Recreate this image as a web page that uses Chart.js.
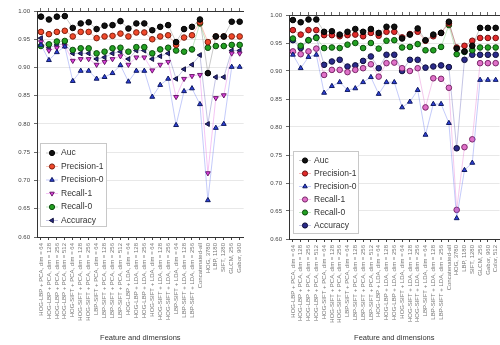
<!DOCTYPE html>
<html>
<head>
<meta charset="utf-8">
<script src="https://cdn.jsdelivr.net/npm/chart.js@4/dist/chart.umd.min.js"></script>
<style>
  html, body { margin: 0; padding: 0; background: #fff; overflow: hidden; width: 500px; height: 345px; }
  #left { position: absolute; left: 0; top: 0; }
  #right { position: absolute; left: 250px; top: 0; }
</style>
</head>
<body>
<canvas id="left" width="250" height="345"></canvas>
<canvas id="right" width="256" height="345"></canvas>
<script>
// Datos
const seriesNames = ["Auc", "Precision-1", "Precision-0", "Recall-1", "Recall-0", "Accuracy"];
const yTicks = [0.60, 0.65, 0.70, 0.75, 0.80, 0.85, 0.90, 0.95, 1.00];

const catsLeft = [
  "HOG-LBP + PCA, dim = 64", "HOG-LBP + PCA, dim = 128", "HOG-LBP + PCA, dim = 256", "HOG-LBP + PCA, dim = 512",
  "HOG-SIFT + PCA, dim = 64", "HOG-SIFT + PCA, dim = 128", "HOG-SIFT + PCA, dim = 256",
  "LBP-SIFT + PCA, dim = 64", "LBP-SIFT + PCA, dim = 128", "LBP-SIFT + PCA, dim = 256", "LBP-SIFT + PCA, dim = 512",
  "HOG-LBP + LDA, dim = 64", "HOG-LBP + LDA, dim = 128", "HOG-LBP + LDA, dim = 256",
  "HOG-SIFT + LDA, dim = 64", "HOG-SIFT + LDA, dim = 128", "HOG-SIFT + LDA, dim = 256",
  "LBP-SIFT + LDA, dim = 64", "LBP-SIFT + LDA, dim = 128", "LBP-SIFT + LDA, dim = 256",
  "Concatenated-all",
  "HOG, 3780", "LBP, 1180", "SIFT, 1280", "GLCM, 256", "Gabor, 960"
];
const aucL   = [0.990,0.985,0.990,0.991,0.970,0.978,0.980,0.968,0.974,0.975,0.982,0.969,0.978,0.978,0.966,0.972,0.975,0.945,0.968,0.972,0.985,0.890,0.955,0.955,0.981,0.981];
const prec1L = [0.963,0.959,0.963,0.965,0.955,0.963,0.963,0.952,0.955,0.956,0.960,0.955,0.962,0.962,0.950,0.955,0.957,0.940,0.953,0.957,0.980,0.945,0.955,0.955,0.955,0.955];
const prec0L = [0.940,0.913,0.927,0.937,0.876,0.894,0.894,0.880,0.883,0.890,0.904,0.875,0.894,0.894,0.848,0.869,0.880,0.798,0.858,0.863,0.835,0.665,0.793,0.800,0.901,0.901];
const rec1L  = [0.945,0.930,0.935,0.938,0.912,0.915,0.915,0.905,0.910,0.915,0.920,0.905,0.918,0.918,0.895,0.905,0.910,0.848,0.880,0.885,0.887,0.713,0.846,0.851,0.925,0.925];
const rec0L  = [0.938,0.941,0.946,0.947,0.931,0.934,0.934,0.925,0.928,0.934,0.935,0.928,0.936,0.936,0.925,0.932,0.935,0.930,0.928,0.932,0.978,0.935,0.938,0.938,0.940,0.940];
const accL   = [0.952,0.935,0.940,0.942,0.925,0.925,0.925,0.915,0.918,0.925,0.928,0.915,0.930,0.930,0.915,0.920,0.925,0.880,0.897,0.905,0.922,0.800,0.883,0.883,0.930,0.930];

const catsRight = [
  "HOG-LBP + PCA, dim = 64", "HOG-LBP + PCA, dim = 128", "HOG-LBP + PCA, dim = 256", "HOG-LBP + PCA, dim = 512",
  "HOG-SIFT + PCA, dim = 64", "HOG-SIFT + PCA, dim = 128", "HOG-SIFT + PCA, dim = 256",
  "LBP-SIFT + PCA, dim = 64", "LBP-SIFT + PCA, dim = 128", "LBP-SIFT + PCA, dim = 256", "LBP-SIFT + PCA, dim = 512",
  "HOG-LBP + LDA, dim = 64", "HOG-LBP + LDA, dim = 128", "HOG-LBP + LDA, dim = 256",
  "HOG-SIFT + LDA, dim = 64", "HOG-SIFT + LDA, dim = 128", "HOG-SIFT + LDA, dim = 256",
  "LBP-SIFT + LDA, dim = 64", "LBP-SIFT + LDA, dim = 128", "LBP-SIFT + LDA, dim = 256",
  "Concatenated-all",
  "HOG, 3780", "LBP, 1180", "SIFT, 1280", "GLCM, 256", "Gabor, 960", "Color, 512"
];
const aucR   = [0.991,0.987,0.992,0.992,0.970,0.971,0.965,0.970,0.975,0.970,0.975,0.968,0.979,0.979,0.958,0.965,0.976,0.955,0.965,0.968,0.988,0.940,0.935,0.945,0.977,0.977,0.977];
const prec1R = [0.973,0.965,0.973,0.973,0.964,0.964,0.962,0.964,0.965,0.962,0.968,0.963,0.970,0.970,0.960,0.966,0.970,0.954,0.962,0.968,0.985,0.942,0.945,0.954,0.959,0.959,0.959];
const prec0R = [0.929,0.905,0.925,0.929,0.861,0.873,0.880,0.866,0.869,0.880,0.889,0.859,0.880,0.880,0.835,0.845,0.866,0.786,0.841,0.841,0.807,0.637,0.723,0.736,0.884,0.884,0.884];
const rec1R  = [0.935,0.930,0.935,0.940,0.893,0.902,0.902,0.898,0.902,0.905,0.912,0.890,0.914,0.915,0.905,0.900,0.905,0.835,0.887,0.886,0.870,0.652,0.764,0.778,0.914,0.914,0.914];
const rec0R  = [0.958,0.945,0.955,0.959,0.941,0.942,0.941,0.947,0.950,0.941,0.950,0.940,0.954,0.955,0.942,0.943,0.948,0.937,0.937,0.943,0.982,0.930,0.934,0.937,0.942,0.942,0.942];
const accR   = [0.955,0.941,0.955,0.960,0.911,0.917,0.920,0.908,0.910,0.918,0.926,0.905,0.929,0.929,0.900,0.920,0.920,0.906,0.908,0.910,0.907,0.762,0.920,0.929,0.929,0.929,0.929];

Chart.defaults.font.family = "'Liberation Sans', Arial, sans-serif";
Chart.defaults.color = '#333';

// leyenda dentro del grafico
const insideLegend = {
  id: 'insideLegend',
  afterDraw(chart, args, opts) {
    const ctx = chart.ctx;
    ctx.save();
    ctx.fillStyle = '#fff';
    ctx.fillRect(opts.x, opts.y, opts.w, opts.h);
    ctx.strokeStyle = '#c8c8c8';
    ctx.lineWidth = 1;
    ctx.strokeRect(opts.x + 0.5, opts.y + 0.5, opts.w, opts.h);
    chart.data.datasets.forEach((ds, i) => {
      const y = opts.y + opts.first + i * opts.row;
      const mx = opts.x + 12;
      ctx.strokeStyle = ds.borderColor;
      ctx.lineWidth = 0.8;
      ctx.beginPath();
      ctx.moveTo(mx - 6, y);
      ctx.lineTo(mx + 6, y);
      ctx.stroke();
      ctx.fillStyle = ds.pointBackgroundColor;
      ctx.strokeStyle = ds.pointBorderColor;
      ctx.lineWidth = 1;
      if (Chart.helpers && Chart.helpers.drawPoint) {
        Chart.helpers.drawPoint(ctx, { pointStyle: ds.pointStyle, rotation: ds.pointRotation || 0, radius: 2.6, borderWidth: 1 }, mx, y);
      } else {
        ctx.beginPath();
        ctx.arc(mx, y, 2.6, 0, Math.PI * 2);
        ctx.fill();
        ctx.stroke();
      }
      ctx.fillStyle = '#333';
      ctx.font = "8.5px 'Liberation Sans', Arial, sans-serif";
      ctx.textBaseline = 'middle';
      ctx.fillText(ds.label, opts.x + 21, y);
    });
    ctx.restore();
  }
};

function makeDatasets(values, styles) {
  return values.map((v, i) => ({
    label: seriesNames[i],
    data: v,
    borderColor: styles[i].line,
    borderWidth: 0.8,
    pointBackgroundColor: styles[i].fill,
    pointBorderColor: styles[i].edge,
    pointBorderWidth: 1,
    pointRadius: 2.8,
    pointStyle: styles[i].shape,
    pointRotation: styles[i].rot || 0,
    tension: 0
  }));
}

const stylesLeft = [
  { fill: '#111', edge: '#000', line: 'rgba(60,60,60,0.35)', shape: 'circle' },
  { fill: '#f0482a', edge: '#7a2010', line: 'rgba(240,72,42,0.4)', shape: 'circle' },
  { fill: '#2c3fd8', edge: '#101a60', line: 'rgba(90,110,240,0.45)', shape: 'triangle' },
  { fill: '#e040e0', edge: '#6a1a6a', line: 'rgba(230,110,230,0.5)', shape: 'triangle', rot: 180 },
  { fill: '#22a022', edge: '#0c4a0c', line: 'rgba(40,170,40,0.35)', shape: 'circle' },
  { fill: '#2a2a8a', edge: '#10103a', line: 'rgba(70,70,170,0.4)', shape: 'triangle', rot: 270 }
];
const stylesRight = [
  { fill: '#111', edge: '#000', line: 'rgba(60,60,60,0.35)', shape: 'circle' },
  { fill: '#e22a2a', edge: '#701010', line: 'rgba(226,42,42,0.4)', shape: 'circle' },
  { fill: '#2c3fd8', edge: '#101a60', line: 'rgba(90,110,240,0.45)', shape: 'triangle' },
  { fill: '#e070c8', edge: '#7a2a6a', line: 'rgba(230,120,210,0.5)', shape: 'circle' },
  { fill: '#22a022', edge: '#0c4a0c', line: 'rgba(40,170,40,0.35)', shape: 'circle' },
  { fill: '#2a2a8a', edge: '#10103a', line: 'rgba(70,70,170,0.4)', shape: 'circle' }
];

function makeOptions(yWidth, xHeight, padTop, padRight, legendBox) {
  return {
    responsive: false,
    animation: false,
    devicePixelRatio: 1,
    layout: { padding: { top: padTop, right: padRight, left: 0, bottom: 0 } },
    plugins: {
      legend: { display: false },
      tooltip: { enabled: false },
      insideLegend: legendBox
    },
    scales: {
      x: {
        type: 'category',
        offset: true,
        grid: { display: true, drawOnChartArea: false, tickLength: 3, tickColor: '#444' },
        border: { color: '#333', width: 1 },
        ticks: { autoSkip: false, minRotation: 90, maxRotation: 90, padding: 3, color: '#777', font: { size: 6 } },
        title: { display: true, text: 'Feature and dimensions', color: '#333', font: { size: 7.5 }, padding: { top: 2, bottom: 3 } },
        afterFit: s => { s.height = xHeight; }
      },
      x2: {
        type: 'category',
        position: 'top',
        offset: true,
        grid: { display: true, drawOnChartArea: false, tickLength: 3, tickColor: '#666' },
        border: { color: '#333', width: 1 },
        ticks: { display: false },
        afterFit: s => { s.height = 3; }
      },
      y: {
        min: 0.6,
        max: 1.0,
        afterBuildTicks: s => { s.ticks = yTicks.map(v => ({ value: v })); },
        grid: { color: '#e2e2e2', lineWidth: 0.8, tickLength: 3, tickColor: '#444' },
        border: { color: '#333', width: 1 },
        ticks: { color: '#444', font: { size: 6 }, padding: 4, callback: v => Number(v).toFixed(2) },
        afterFit: s => { s.width = yWidth; }
      }
    }
  };
}

new Chart(document.getElementById('left'), {
  type: 'line',
  data: {
    labels: catsLeft,
    datasets: makeDatasets([aucL, prec1L, prec0L, rec1L, rec0L, accL], stylesLeft)
  },
  options: makeOptions(37, 108, 8, 1, { x: 40, y: 143, w: 66, h: 83, first: 10, row: 13.5 }),
  plugins: [insideLegend]
});

new Chart(document.getElementById('right'), {
  type: 'line',
  data: {
    labels: catsRight,
    datasets: makeDatasets([aucR, prec1R, prec0R, rec1R, rec0R, accR], stylesRight)
  },
  options: makeOptions(39, 106, 12, 0, { x: 43, y: 151, w: 65, h: 82, first: 9.5, row: 13 }),
  plugins: [insideLegend]
});
</script>
</body>
</html>
